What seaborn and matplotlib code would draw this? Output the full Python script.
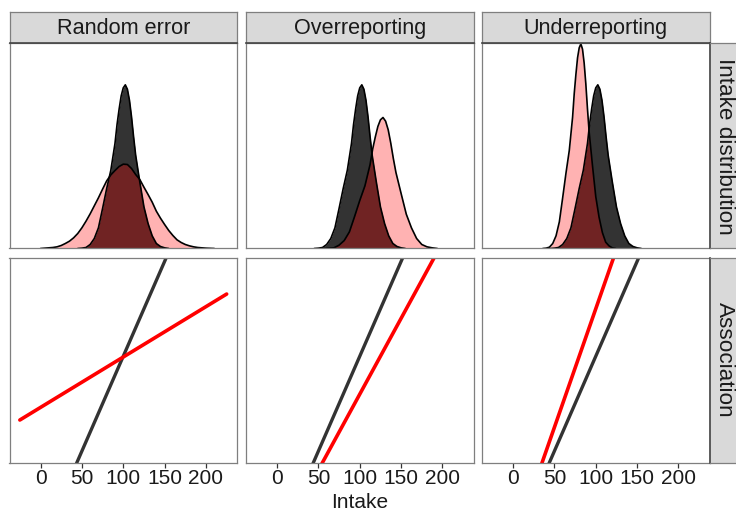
import matplotlib
matplotlib.use("Agg")
import matplotlib.pyplot as plt
import seaborn as sns

# ---------------- data ----------------
panels = ["Random error", "Overreporting", "Underreporting"]
row_labels = ["Intake distribution", "Association"]
x_ticks = [0, 50, 100, 150, 200]
x_label = "Intake"

# true intake distribution (black), relative density heights
true_x = [45, 50, 55, 60, 65, 70, 75, 80, 85, 90, 92.5, 95, 97.5, 100, 102.5, 105,
          107.5, 110, 112.5, 115, 120, 125, 130, 135, 140, 145, 150, 155]
true_h = [0, 1, 3, 12, 30, 62, 120, 180, 235, 315, 372, 418, 458, 482, 491, 478,
          445, 395, 335, 280, 200, 125, 75, 38, 15, 6, 2, 0]

# reported intake, random error (pink)
rand_x = [0, 10, 15, 20, 25, 30, 35, 40, 45, 50, 55, 60, 65, 70, 75, 80, 85, 90, 95,
          100, 105, 110, 115, 120, 125, 130, 135, 140, 145, 150, 155, 160, 165, 170,
          175, 180, 185, 190, 200, 210]
rand_h = [0, 2, 3, 5, 9, 15, 22, 32, 45, 62, 82, 104, 128, 152, 178, 203, 221, 234, 246,
          253, 252, 240, 222, 207, 184, 162, 139, 112, 91, 72, 54, 39, 26, 18,
          12, 8, 5, 3, 1, 0]

# reported intake, overreporting (pink)
over_x = [56.25, 62.5, 68.75, 75, 81.25, 87.5, 93.75, 100, 106.25, 112.5, 115.6, 118.75,
          121.9, 125, 128.1, 131.25, 134.4, 137.5, 140.6, 143.75, 150, 156.25, 162.5,
          168.75, 175, 181.25, 187.5, 193.75]
over_h = [0, 1, 2, 10, 24, 50, 96, 144, 188, 252, 298, 334, 366, 386, 393, 382, 356, 316,
          270, 228, 165, 103, 62, 30, 12, 5, 2, 0]

# reported intake, underreporting (pink)
under_x = [36, 40, 44, 48, 52, 56, 60, 64, 68, 72, 74, 76, 78, 80, 82, 84, 86, 88, 90, 92,
           96, 100, 104, 108, 112, 116, 120, 124]
under_h = [0, 1, 4, 15, 38, 80, 152, 226, 294, 394, 465, 522, 572, 602, 614, 598, 556,
           494, 419, 350, 250, 156, 94, 48, 19, 8, 2, 0]

# association lines (outcome vs intake)
line_x = [-25, 225]
true_line_y = [-25, 225]
rand_line_y = [66.4, 132.8]
over_line_y = [-20, 180]
under_line_y = [-31.25, 281.25]

reported = {
    "Random error": (rand_x, rand_h, rand_line_y),
    "Overreporting": (over_x, over_h, over_line_y),
    "Underreporting": (under_x, under_h, under_line_y),
}

# ---------------- styling ----------------
sns.set_theme(style="white")
plt.rcParams["font.family"] = ["Liberation Sans", "DejaVu Sans"]

W, H = 736, 511
fig = plt.figure(figsize=(W / 100, H / 100), dpi=100)


def rect(l, t, r, b):
    return [l / W, 1 - b / H, (r - l) / W, (b - t) / H]


col_l = [9.5, 246.0, 482.0]
col_w = 227.5
row_tb = [(43.5, 248.5), (258.0, 462.5)]
strip_top = 12.0
border = "#7f7f7f"
strip_bg = "#d9d9d9"
txt_col = "#1a1a1a"
fs = 15
fs_strip = 15.6

for i, name in enumerate(panels):
    l = col_l[i]
    r = l + col_w
    rx, rh, ry = reported[name]

    # density panel
    t, b = row_tb[0]
    ax = fig.add_axes(rect(l, t, r, b))
    ax.fill_between(true_x, true_h, color="black", alpha=0.8, lw=0)
    sns.lineplot(x=true_x, y=true_h, color="black", lw=1.2, ax=ax, estimator=None)
    ax.fill_between(rx, rh, color="red", alpha=0.3, lw=0)
    sns.lineplot(x=rx, y=rh, color="black", lw=1.2, ax=ax, estimator=None)
    ax.set_xlim(-37.5, 237.5)
    ax.set_ylim(0, 615)
    ax.set_xticks([])
    ax.set_yticks([])
    ax.set_xlabel("")
    ax.set_ylabel("")
    for s in ax.spines.values():
        s.set_color(border)
        s.set_linewidth(0.9)
        s.set_zorder(5)

    # association panel
    t, b = row_tb[1]
    ax2 = fig.add_axes(rect(l, t, r, b))
    sns.lineplot(x=line_x, y=true_line_y, color="#333333", lw=2.4, ax=ax2, estimator=None)
    sns.lineplot(x=line_x, y=ry, color="#ff0000", lw=2.6, ax=ax2, estimator=None)
    ax2.set_xlim(-37.5, 237.5)
    ax2.set_ylim(44, 151.8)
    ax2.set_yticks([])
    ax2.set_xticks(x_ticks)
    ax2.set_xticklabels([str(v) for v in x_ticks])
    ax2.tick_params(axis="x", bottom=True, length=3.5, width=0.9, color="#333333",
                    labelsize=fs, labelcolor=txt_col, pad=1.5)
    ax2.set_xlabel("")
    ax2.set_ylabel("")
    for s in ax2.spines.values():
        s.set_color(border)
        s.set_linewidth(0.9)
        s.set_zorder(5)

    # top strip
    sa = fig.add_axes(rect(l, strip_top, r, row_tb[0][0]))
    sa.set_facecolor(strip_bg)
    sa.set_xticks([])
    sa.set_yticks([])
    for s in sa.spines.values():
        s.set_color(border)
        s.set_linewidth(0.9)
    sa.spines["bottom"].set_color("#444444")
    sa.spines["bottom"].set_linewidth(1.2)
    sa.text(0.5, 0.47, name, ha="center", va="center", fontsize=fs_strip, color=txt_col,
            transform=sa.transAxes)

# right strips
for j, lab in enumerate(row_labels):
    t, b = row_tb[j]
    sa = fig.add_axes(rect(709.5, t, 741, b))
    sa.set_facecolor(strip_bg)
    sa.set_xticks([])
    sa.set_yticks([])
    for s in sa.spines.values():
        s.set_color(border)
        s.set_linewidth(0.9)
    sa.spines["left"].set_color("#444444")
    sa.spines["left"].set_linewidth(1.2)
    sa.text(0.47, 0.5, lab, ha="center", va="center", rotation=-90, fontsize=16.2,
            color=txt_col, transform=sa.transAxes)

mid = col_l[1] + col_w / 2
fig.text(mid / W, 1 - 502 / H, x_label, ha="center", va="center", fontsize=fs,
         color=txt_col)

fig.savefig("out.png", dpi=100)
